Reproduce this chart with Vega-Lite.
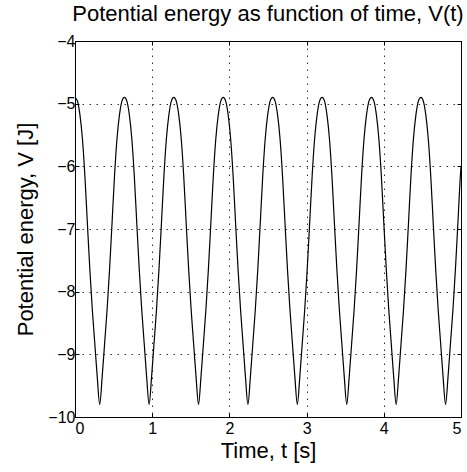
{
  "$schema": "https://vega.github.io/schema/vega-lite/v6.json",
  "width": 386,
  "height": 376,
  "autosize": {"type": "none"},
  "padding": {"left": 75, "top": 41, "right": 6, "bottom": 55},
  "background": "white",
  "title": {"text": "Potential energy as function of time, V(t)", "font": "Liberation Sans", "fontSize": 22, "fontWeight": "normal", "color": "black", "anchor": "middle", "frame": "group", "offset": 9, "baseline": "bottom", "dy": 24},
  "config": {
    "view": {"stroke": "black", "strokeWidth": 1},
    "axis": {"labelFont": "Liberation Sans", "titleFont": "Liberation Sans", "labelColor": "black", "titleColor": "black", "labelFontSize": 16, "titleFontSize": 22, "titleFontWeight": "normal", "domainColor": "black", "tickColor": "black", "tickSize": -4, "gridColor": "#000", "gridDash": [1.5, 5.5], "gridOpacity": 0.8, "gridWidth": 1}
  },
  "data": {"values": [
    {"t":0,"v":-4.90},{"t":0.032,"v":-4.96},{"t":0.064,"v":-5.18},{"t":0.096,"v":-5.56},{"t":0.128,"v":-6.15},{"t":0.16,"v":-6.90},{"t":0.192,"v":-7.64},{"t":0.224,"v":-8.28},{"t":0.256,"v":-8.82},{"t":0.288,"v":-9.36},{"t":0.32,"v":-9.80},{"t":0.352,"v":-9.36},{"t":0.384,"v":-8.82},{"t":0.416,"v":-8.28},{"t":0.448,"v":-7.64},{"t":0.48,"v":-6.90},{"t":0.512,"v":-6.15},{"t":0.544,"v":-5.56},{"t":0.576,"v":-5.18},{"t":0.608,"v":-4.96},
    {"t":0.64,"v":-4.90},{"t":0.672,"v":-4.96},{"t":0.704,"v":-5.18},{"t":0.736,"v":-5.56},{"t":0.768,"v":-6.15},{"t":0.8,"v":-6.90},{"t":0.832,"v":-7.64},{"t":0.864,"v":-8.28},{"t":0.896,"v":-8.82},{"t":0.928,"v":-9.36},{"t":0.96,"v":-9.80},{"t":0.992,"v":-9.36},{"t":1.024,"v":-8.82},{"t":1.056,"v":-8.28},{"t":1.088,"v":-7.64},{"t":1.12,"v":-6.90},{"t":1.152,"v":-6.15},{"t":1.184,"v":-5.56},{"t":1.216,"v":-5.18},{"t":1.248,"v":-4.96},
    {"t":1.28,"v":-4.90},{"t":1.312,"v":-4.96},{"t":1.344,"v":-5.18},{"t":1.376,"v":-5.56},{"t":1.408,"v":-6.15},{"t":1.44,"v":-6.90},{"t":1.472,"v":-7.64},{"t":1.504,"v":-8.28},{"t":1.536,"v":-8.82},{"t":1.568,"v":-9.36},{"t":1.6,"v":-9.80},{"t":1.632,"v":-9.36},{"t":1.664,"v":-8.82},{"t":1.696,"v":-8.28},{"t":1.728,"v":-7.64},{"t":1.76,"v":-6.90},{"t":1.792,"v":-6.15},{"t":1.824,"v":-5.56},{"t":1.856,"v":-5.18},{"t":1.888,"v":-4.96},
    {"t":1.92,"v":-4.90},{"t":1.952,"v":-4.96},{"t":1.984,"v":-5.18},{"t":2.016,"v":-5.56},{"t":2.048,"v":-6.15},{"t":2.08,"v":-6.90},{"t":2.112,"v":-7.64},{"t":2.144,"v":-8.28},{"t":2.176,"v":-8.82},{"t":2.208,"v":-9.36},{"t":2.24,"v":-9.80},{"t":2.272,"v":-9.36},{"t":2.304,"v":-8.82},{"t":2.336,"v":-8.28},{"t":2.368,"v":-7.64},{"t":2.4,"v":-6.90},{"t":2.432,"v":-6.15},{"t":2.464,"v":-5.56},{"t":2.496,"v":-5.18},{"t":2.528,"v":-4.96},
    {"t":2.56,"v":-4.90},{"t":2.592,"v":-4.96},{"t":2.624,"v":-5.18},{"t":2.656,"v":-5.56},{"t":2.688,"v":-6.15},{"t":2.72,"v":-6.90},{"t":2.752,"v":-7.64},{"t":2.784,"v":-8.28},{"t":2.816,"v":-8.82},{"t":2.848,"v":-9.36},{"t":2.88,"v":-9.80},{"t":2.912,"v":-9.36},{"t":2.944,"v":-8.82},{"t":2.976,"v":-8.28},{"t":3.008,"v":-7.64},{"t":3.04,"v":-6.90},{"t":3.072,"v":-6.15},{"t":3.104,"v":-5.56},{"t":3.136,"v":-5.18},{"t":3.168,"v":-4.96},
    {"t":3.2,"v":-4.90},{"t":3.232,"v":-4.96},{"t":3.264,"v":-5.18},{"t":3.296,"v":-5.56},{"t":3.328,"v":-6.15},{"t":3.36,"v":-6.90},{"t":3.392,"v":-7.64},{"t":3.424,"v":-8.28},{"t":3.456,"v":-8.82},{"t":3.488,"v":-9.36},{"t":3.52,"v":-9.80},{"t":3.552,"v":-9.36},{"t":3.584,"v":-8.82},{"t":3.616,"v":-8.28},{"t":3.648,"v":-7.64},{"t":3.68,"v":-6.90},{"t":3.712,"v":-6.15},{"t":3.744,"v":-5.56},{"t":3.776,"v":-5.18},{"t":3.808,"v":-4.96},
    {"t":3.84,"v":-4.90},{"t":3.872,"v":-4.96},{"t":3.904,"v":-5.18},{"t":3.936,"v":-5.56},{"t":3.968,"v":-6.15},{"t":4.0,"v":-6.90},{"t":4.032,"v":-7.64},{"t":4.064,"v":-8.28},{"t":4.096,"v":-8.82},{"t":4.128,"v":-9.36},{"t":4.16,"v":-9.80},{"t":4.192,"v":-9.36},{"t":4.224,"v":-8.82},{"t":4.256,"v":-8.28},{"t":4.288,"v":-7.64},{"t":4.32,"v":-6.90},{"t":4.352,"v":-6.15},{"t":4.384,"v":-5.56},{"t":4.416,"v":-5.18},{"t":4.448,"v":-4.96},
    {"t":4.48,"v":-4.90},{"t":4.512,"v":-4.96},{"t":4.544,"v":-5.18},{"t":4.576,"v":-5.56},{"t":4.608,"v":-6.15},{"t":4.64,"v":-6.90},{"t":4.672,"v":-7.64},{"t":4.704,"v":-8.28},{"t":4.736,"v":-8.82},{"t":4.768,"v":-9.36},{"t":4.8,"v":-9.80},{"t":4.832,"v":-9.36},{"t":4.864,"v":-8.82},{"t":4.896,"v":-8.28},{"t":4.928,"v":-7.64},{"t":4.96,"v":-6.90},{"t":4.992,"v":-6.15},{"t":5.0,"v":-6.01}
  ]},
  "layer": [
    {
      "mark": {"type": "line", "color": "black", "strokeWidth": 1.2, "interpolate": "monotone"},
      "encoding": {
        "x": {"field": "t", "type": "quantitative", "scale": {"domain": [0, 5], "nice": false, "zero": false},
              "axis": {"values": [0, 1, 2, 3, 4, 5], "title": "Time, t [s]", "grid": true, "labelPadding": 7, "titlePadding": 4, "orient": "bottom"}},
        "y": {"field": "v", "type": "quantitative", "scale": {"domain": [-10, -4], "nice": false, "zero": false},
              "axis": {"values": [-10, -9, -8, -7, -6, -5, -4], "title": "Potential energy, V [J]", "grid": true, "labelPadding": 4, "titlePadding": 10, "orient": "left"}}
      }
    },
    {
      "mark": {"type": "line", "color": "black", "opacity": 0},
      "encoding": {
        "x": {"field": "t", "type": "quantitative", "scale": {"domain": [0, 5], "nice": false, "zero": false},
              "axis": {"values": [0, 1, 2, 3, 4, 5], "title": null, "grid": false, "labels": false, "orient": "top"}},
        "y": {"field": "v", "type": "quantitative", "scale": {"domain": [-10, -4], "nice": false, "zero": false},
              "axis": {"values": [-10, -9, -8, -7, -6, -5, -4], "title": null, "grid": false, "labels": false, "orient": "right"}}
      }
    }
  ],
  "resolve": {"axis": {"x": "independent", "y": "independent"}}
}
